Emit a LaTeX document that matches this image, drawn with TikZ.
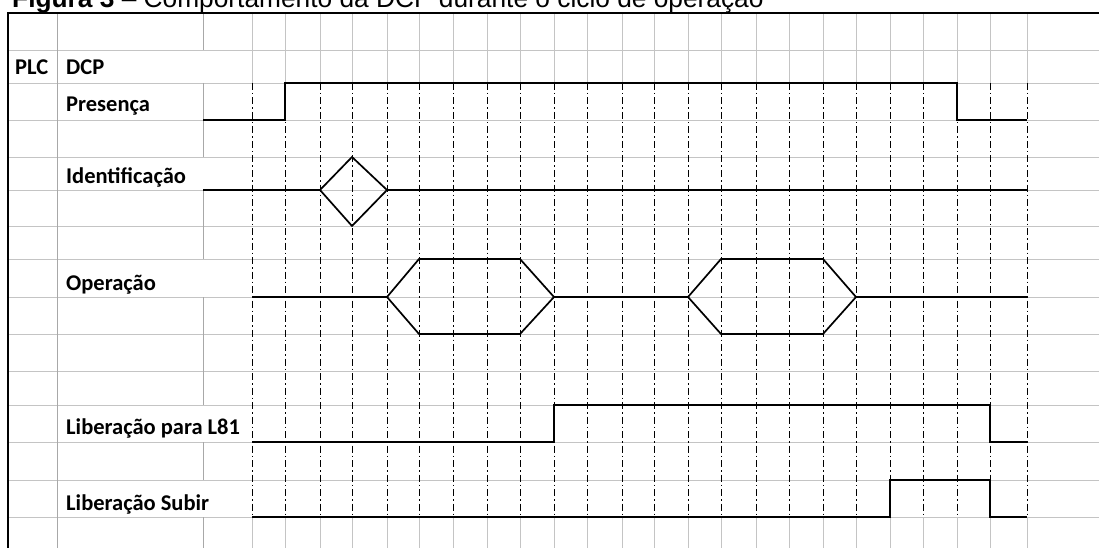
\documentclass[tikz,border=0pt]{standalone}
\usepackage{fontspec}
\setmainfont{Carlito}
\newfontfamily\titulofonte{Liberation Sans}
\usepackage{xcolor}
\usepackage{tikz}
\usetikzlibrary{positioning}
\definecolor{gradecinza}{HTML}{C4C4C4}
\definecolor{bordacinza}{HTML}{A8A8A8}

\begin{document}
\begin{tikzpicture}[
    x=1pt, y=-1pt,
    every node/.style={font=\fontsize{22.5}{26}\selectfont\bfseries, anchor=base west, inner sep=0pt},
    grade/.style={draw=gradecinza, line width=0.9pt},
    celula/.style={draw=bordacinza, line width=0.9pt},
    tempo/.style={draw=black, line width=0.8pt, dash pattern=on 7pt off 3pt on 1.5pt off 3pt},
    sinal/.style={draw=black, line width=1.7pt, line join=miter}
]
\clip (0,0) rectangle (1099,548);

\foreach \y in {50,83,120,157,190,226,259,297,334,371,405,442,480,517}
    \draw[grade] (8,\y) -- (1099,\y);
\draw[celula] (57,13) -- (57,548);
\foreach \a/\b in {13/50,83/157,190/259,297/405,442/480,517/548}
    \draw[celula] (203,\a) -- (203,\b);
\foreach \x in {252,285,320,352,387,419,453,487,520,554,587,622,654,688,721,756,789,823,856,890,923,957,990,1027} {
    \draw[grade] (\x,13) -- (\x,83);
    \draw[tempo] (\x,83) -- (\x,517);
    \draw[grade] (\x,517) -- (\x,548);
}

\draw[line width=2pt] (8,548) -- (8,13) -- (1099,13);

\node[font=\titulofonte\fontsize{26.3}{30}\selectfont] (titulo) at (12,8)
    {\textbf{Figura 3} \textendash{} Comportamento da DCP durante o ciclo de operação};

\node (plc) at (15,75) {PLC};
\node (dcp) at (66,75) {DCP};
\node (presenca) at (66,112) {Presença};
\node (identificacao) at (66,183) {Identificação};
\node (operacao) at (66,290) {Operação};
\node (liberacaoL81) at (66,434) {Liberação para L81};
\node (liberacaoSubir) at (66,510) {Liberação Subir};

\draw[sinal] (203,120) -- (285,120) -- (285,83) -- (957,83) -- (957,120) -- (1027,120);

\draw[sinal] (203,190) -- (320,190) -- (352,157) -- (387,190) -- (1027,190);
\draw[sinal] (320,190) -- (352,226) -- (387,190);

\draw[sinal] (252,297) -- (387,297) -- (419,259) -- (520,259) -- (554,297)
    -- (688,297) -- (721,259) -- (823,259) -- (856,297) -- (1027,297);
\draw[sinal] (387,297) -- (419,334) -- (520,334) -- (554,297);
\draw[sinal] (688,297) -- (721,334) -- (823,334) -- (856,297);

\draw[sinal] (252,442) -- (554,442) -- (554,405) -- (990,405) -- (990,442) -- (1027,442);

\draw[sinal] (252,517) -- (890,517) -- (890,480) -- (990,480) -- (990,517) -- (1027,517);
\end{tikzpicture}
\end{document}
